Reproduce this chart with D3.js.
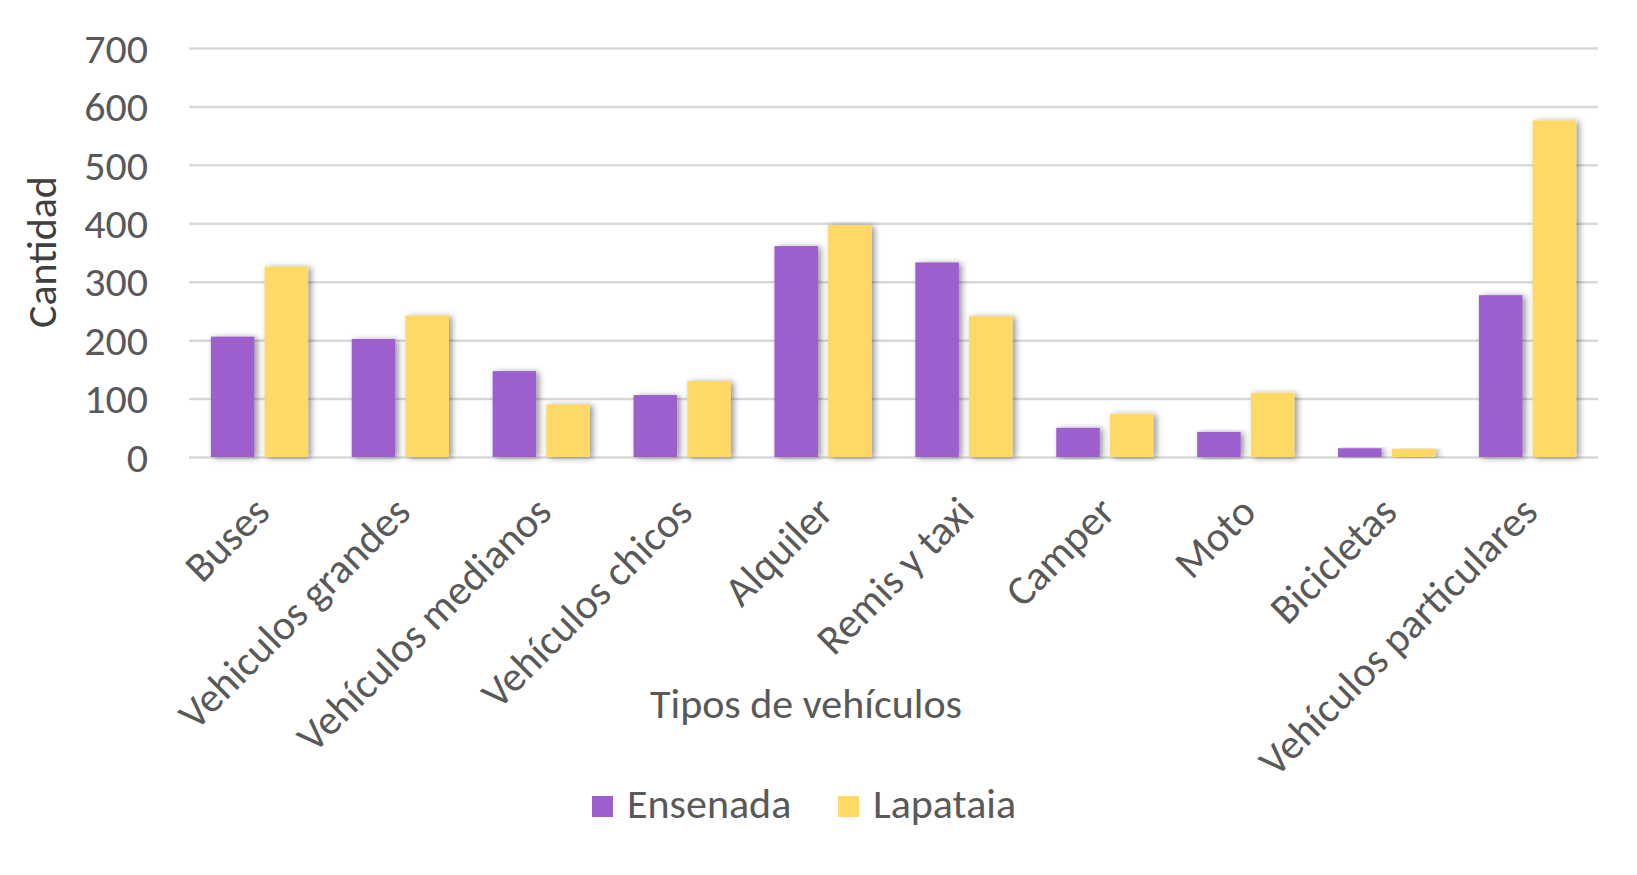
<!DOCTYPE html>
<html>
<head>
<meta charset="utf-8">
<script src="https://cdn.jsdelivr.net/npm/d3@7"></script>
<style>
  body { margin: 0; background: #fff; }
</style>
</head>
<body>
<script>
// Chart settings
const width = 1637;
const height = 875;
const margin = { top: 48, right: 39, bottom: 418, left: 189 };
const font = 'Calibri, Carlito, Lato, sans-serif';
const fontSize = '42px';
const textColor = '#595959';

// Data
const categorias = [
    'Buses', 'Vehiculos grandes', 'Vehículos medianos', 'Vehículos chicos',
    'Alquiler', 'Remis y taxi', 'Camper', 'Moto', 'Bicicletas', 'Vehículos particulares'
];
const series = ['Ensenada', 'Lapataia'];
const ensenada = [206, 202, 147, 106, 361, 333, 50, 43, 15, 277];
const lapataia = [326, 242, 90, 130, 397, 241, 74, 110, 14, 576];
const yTicks = [0, 100, 200, 300, 400, 500, 600, 700];
const colores = ['#9E5ECE', '#FFD966'];

const rows = categorias.map((c, i) => ({ cat: c, values: [ensenada[i], lapataia[i]] }));

const svg = d3.select('body')
.append('svg')
.attr('width', width)
.attr('height', height)
.style('font-family', font)

// drop shadow like the Excel bars
const defs = svg.append('defs');
defs.append('filter')
.attr('id', 'sombra')
.attr('x', '-30%').attr('y', '-10%')
.attr('width', '160%').attr('height', '120%')
.append('feDropShadow')
.attr('dx', 3)
.attr('dy', 1)
.attr('stdDeviation', 3)
.attr('flood-color', '#000')
.attr('flood-opacity', 0.42)

// Scales
const x0 = d3.scaleBand()
.domain(categorias)
.range([margin.left, width - margin.right])
.paddingInner(0.31)
.paddingOuter(0.155)

const x1 = d3.scaleBand()
.domain(series)
.range([0, x0.bandwidth()])
.paddingInner(0.19)

const y = d3.scaleLinear()
.domain([0, 700])
.range([height - margin.bottom, margin.top])

const color = d3.scaleOrdinal().domain(series).range(colores);

// Grid lines
svg.append('g')
.attr('transform', `translate(${margin.left}, 0)`)
.call(d3.axisLeft(y).tickValues(yTicks).tickSize(-(width - margin.left - margin.right)).tickFormat(''))
.call(g => g.select('.domain').remove())
.call(g => g.selectAll('.tick line').attr('stroke', '#D9D9D9').attr('stroke-width', 2.5))

// Y tick labels
svg.append('g')
.attr('transform', `translate(148, 0)`)
.call(d3.axisLeft(y).tickValues(yTicks).tickSize(0).tickPadding(0))
.call(g => g.select('.domain').remove())
.call(g => g.selectAll('text')
    .attr('fill', textColor)
    .style('font-family', font)
    .style('font-size', fontSize)
    .attr('dy', '0.34em'))

// Bars
svg.append('g')
.selectAll('g')
.data(rows)
.join('g')
.attr('transform', d => `translate(${x0(d.cat)}, 0)`)
.selectAll('rect')
.data(d => series.map((s, i) => ({ serie: s, value: d.values[i] })))
.join('rect')
.attr('x', d => x1(d.serie))
.attr('y', d => y(d.value))
.attr('width', x1.bandwidth())
.attr('height', d => y(0) - y(d.value))
.attr('fill', d => color(d.serie))
.attr('filter', 'url(#sombra)')

// Category labels (rotated)
svg.append('g')
.attr('transform', `translate(0, ${height - margin.bottom + 47})`)
.call(d3.axisBottom(x0).tickSize(0).tickPadding(0))
.call(g => g.select('.domain').remove())
.call(g => g.selectAll('text')
    .attr('fill', textColor)
    .style('font-family', font)
    .style('font-size', fontSize)
    .attr('text-anchor', 'end')
    .attr('dy', '0.35em')
    .attr('transform', 'translate(2, 0) rotate(-45)'))

// Axis titles
svg.append('text')
.attr('x', 806)
.attr('y', 718)
.attr('text-anchor', 'middle')
.attr('fill', textColor)
.style('font-size', fontSize)
.text('Tipos de vehículos')

svg.append('text')
.attr('transform', 'translate(56, 252) rotate(-90)')
.attr('text-anchor', 'middle')
.attr('fill', '#404040')
.style('font-size', fontSize)
.text('Cantidad')

// Legend
const leyenda = svg.append('g')
.selectAll('g')
.data(series)
.join('g')
.attr('transform', (d, i) => `translate(${[592, 838][i]}, 796)`)

leyenda.append('rect')
.attr('width', 21)
.attr('height', 21)
.attr('fill', d => color(d))

leyenda.append('text')
.attr('x', 35)
.attr('y', 22)
.attr('fill', textColor)
.style('font-size', fontSize)
.text(d => d)
</script>
</body>
</html>
